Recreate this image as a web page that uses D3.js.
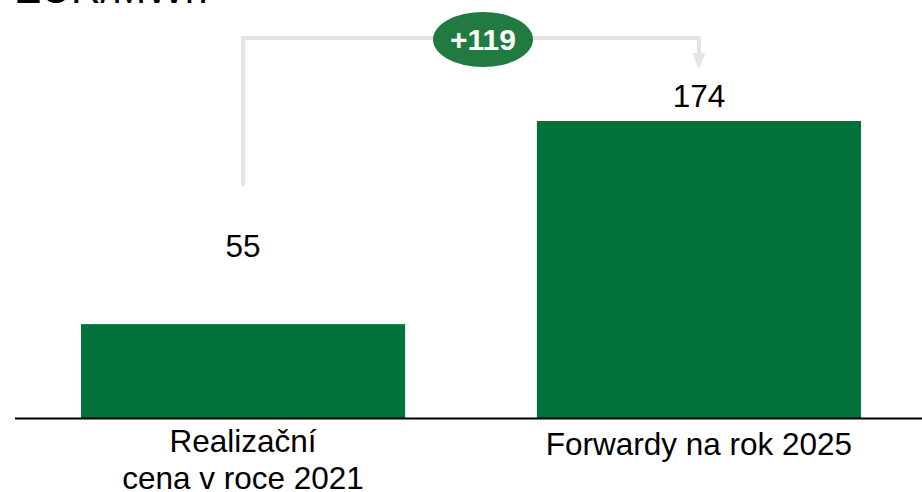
<!DOCTYPE html>
<html>
<head>
<meta charset="utf-8">
<script src="https://cdn.jsdelivr.net/npm/d3@7/dist/d3.min.js"></script>
<style>
  html, body { margin: 0; padding: 0; background: #ffffff; }
  svg { display: block; }
  text { font-family: "Liberation Sans", Arial, sans-serif; }
</style>
</head>
<body>
<svg id="chart" width="922" height="492"></svg>
<script>
// ---- data ----
const unitLabel = "EUR/MWh";
const categories = ["Realizační\ncena v roce 2021", "Forwardy na rok 2025"];
const values = [55, 174];

// ---- setup ----
const W = 922, H = 492;
const svg = d3.select("#chart");
const barColor = "#00723a";
const bubbleColor = "#217a40";
const bracketColor = "#e4e4e4";

const x = d3.scaleBand()
  .domain(categories)
  .range([81, 861])
  .paddingInner(0.289)
  .paddingOuter(0);

const y = d3.scaleLinear()
  .domain([0, d3.max(values)])
  .range([418, 121]);

// unit label (mostly cut off at the top)
svg.append("text")
  .attr("x", 14)
  .attr("y", 3)
  .attr("font-size", 41)
  .attr("fill", "#000")
  .text(unitLabel);

// bars
svg.selectAll("rect.bar")
  .data(values)
  .join("rect")
  .attr("class", "bar")
  .attr("x", (d, i) => x(categories[i]))
  .attr("width", x.bandwidth())
  .attr("y", d => y(d))
  .attr("height", d => y(0) - y(d))
  .attr("fill", barColor);

// baseline axis
const xAxis = d3.axisBottom(x).tickSize(0).tickFormat("");
const axisG = svg.append("g")
  .attr("transform", `translate(0,${y(0)})`)
  .call(xAxis);
axisG.select(".domain").remove();
svg.append("line")
  .attr("x1", 15).attr("x2", W)
  .attr("y1", y(0) + 0.5).attr("y2", y(0) + 0.5)
  .attr("stroke", "#000").attr("stroke-width", 2);

// category labels
categories.forEach((c, i) => {
  const lines = c.split("\n");
  const cx = x(c) + x.bandwidth() / 2;
  const baseY = lines.length > 1 ? 452 : 455;
  const t = svg.append("text")
    .attr("x", cx)
    .attr("y", baseY)
    .attr("text-anchor", "middle")
    .attr("font-size", 31.5)
    .attr("fill", "#000");
  lines.forEach((ln, j) => {
    t.append("tspan")
      .attr("x", cx)
      .attr("dy", j === 0 ? 0 : 37)
      .text(ln);
  });
});

// value labels
const labelOffsets = [67, 14];
svg.selectAll("text.val")
  .data(values)
  .join("text")
  .attr("class", "val")
  .attr("x", (d, i) => x(categories[i]) + x.bandwidth() / 2)
  .attr("y", (d, i) => y(d) - labelOffsets[i])
  .attr("text-anchor", "middle")
  .attr("font-size", 31.5)
  .attr("fill", "#000")
  .text(d => d);

// difference bracket
const x0 = x(categories[0]) + x.bandwidth() / 2;
const x1 = x(categories[1]) + x.bandwidth() / 2;
const topY = 38;
const startY = y(values[0]) - labelOffsets[0] - 22 - 49;
const tipY = 69;
svg.append("path")
  .attr("d", d3.line()([[x0, startY], [x0, topY], [x1, topY], [x1, tipY - 14]]))
  .attr("fill", "none")
  .attr("stroke", bracketColor)
  .attr("stroke-width", 4);
svg.append("path")
  .attr("d", d3.line()([[x1 - 6.5, tipY - 16], [x1 + 6.5, tipY - 16], [x1, tipY]]) + "Z")
  .attr("fill", bracketColor);

// difference bubble
const diff = values[1] - values[0];
const bx = 483, by = 39.5;
svg.append("ellipse")
  .attr("cx", bx).attr("cy", by)
  .attr("rx", 50).attr("ry", 27.5)
  .attr("fill", bubbleColor);
svg.append("text")
  .attr("x", bx)
  .attr("y", by + 10.5)
  .attr("text-anchor", "middle")
  .attr("font-size", 30)
  .attr("font-weight", "bold")
  .attr("fill", "#ffffff")
  .text((diff > 0 ? "+" : "") + diff);
</script>
</body>
</html>
